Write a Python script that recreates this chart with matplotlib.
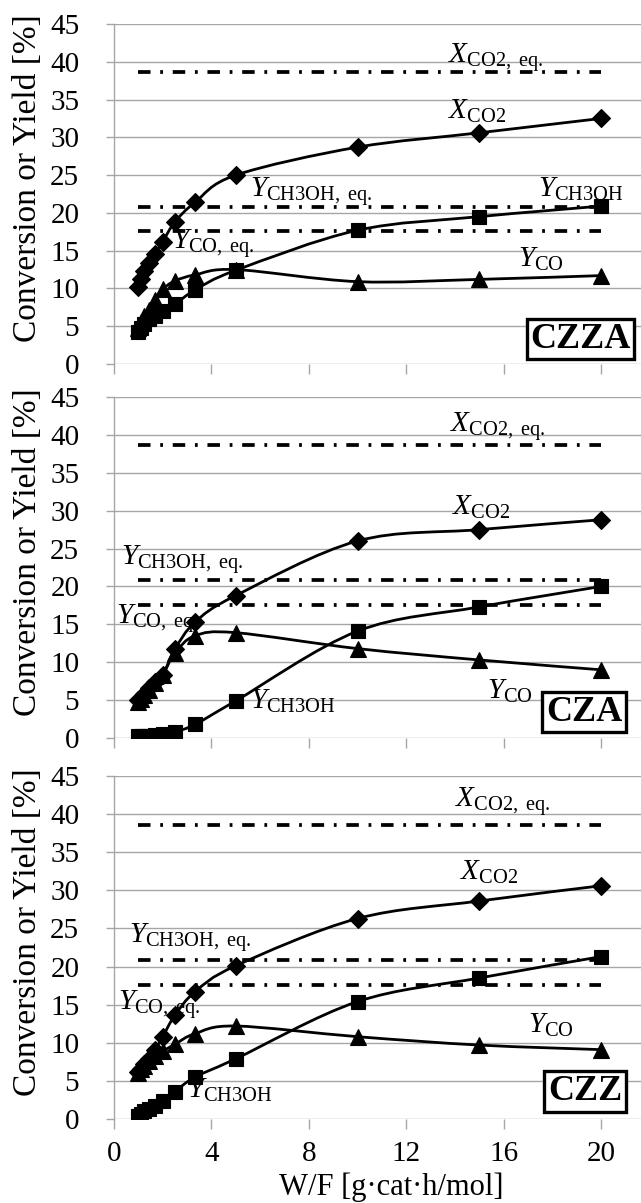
import matplotlib
matplotlib.use("Agg")
import matplotlib.pyplot as plt
from matplotlib.path import Path
from matplotlib.patches import PathPatch

# ---------------- data ----------------
wf = [1.0, 1.11, 1.25, 1.43, 1.67, 2.0, 2.5, 3.33, 5.0, 10.0, 15.0, 20.0]

czza_xco2 = [10.2, 11.2, 12.3, 13.4, 14.6, 16.2, 18.8, 21.4, 25.0, 28.7, 30.6, 32.5]
czza_ych3oh = [4.3, 4.8, 5.3, 5.9, 6.3, 7.0, 7.9, 9.8, 12.4, 17.7, 19.5, 20.9]
czza_yco = [4.8, 5.5, 6.3, 7.2, 8.5, 9.9, 11.0, 11.8, 12.5, 10.9, 11.2, 11.7]

cza_xco2 = [5.0, 5.3, 5.8, 6.6, 7.4, 8.3, 11.7, 15.3, 18.8, 26.0, 27.5, 28.8]
cza_ych3oh = [0.2, 0.2, 0.25, 0.3, 0.4, 0.5, 0.8, 1.8, 4.9, 14.1, 17.3, 20.0]
cza_yco = [4.8, 5.2, 5.7, 6.4, 7.2, 8.3, 11.2, 13.5, 13.9, 11.8, 10.3, 9.0]

czz_xco2 = [6.2, 6.6, 7.2, 7.9, 9.0, 10.8, 13.6, 16.7, 20.1, 26.3, 28.6, 30.6]
czz_ych3oh = [0.4, 0.7, 1.0, 1.3, 1.7, 2.3, 3.6, 5.5, 7.9, 15.4, 18.5, 21.3]
czz_yco = [6.0, 6.5, 7.0, 7.6, 8.3, 8.9, 9.8, 11.2, 12.2, 10.8, 9.7, 9.1]

xco2_eq = 38.6
ych3oh_eq = 20.8
yco_eq = 17.6

catalysts = ["CZZA", "CZA", "CZZ"]
xticks = [0, 4, 8, 12, 16, 20]
yticks = [0, 5, 10, 15, 20, 25, 30, 35, 40, 45]

# ---------------- style ----------------
plt.rcParams["font.family"] = ["Liberation Serif", "DejaVu Serif"]
plt.rcParams["mathtext.fontset"] = "custom"
plt.rcParams["mathtext.rm"] = "Liberation Serif"
plt.rcParams["mathtext.it"] = "Liberation Serif:italic"
plt.rcParams["lines.scale_dashes"] = False

GRID = "#a6a6a6"
W, H = 641, 1203
fig = plt.figure(figsize=(W / 100, H / 100), dpi=100)

panel_px = [(24, 364), (397, 738), (776, 1119)]  # (top, bottom) pixel rows
x0_px = 114
xmax = (W - x0_px) / 24.35

series = [
    (czza_xco2, czza_ych3oh, czza_yco),
    (cza_xco2, cza_ych3oh, cza_yco),
    (czz_xco2, czz_ych3oh, czz_yco),
]

# label layout per panel: (text, x, y) in data coords (left, baseline)
lab_xeq = r"$X_{\mathrm{CO2,\ eq.}}$"
lab_x = r"$X_{\mathrm{CO2}}$"
lab_meq = r"$Y_{\mathrm{CH3OH,\ eq.}}$"
lab_m = r"$Y_{\mathrm{CH3OH}}$"
lab_ceq = r"$Y_{\mathrm{CO,\ eq.}}$"
lab_c = r"$Y_{\mathrm{CO}}$"
label_pos = [
    [(lab_xeq, 13.7, 39.8), (lab_x, 13.7, 32.5), (lab_meq, 5.6, 22.1),
     (lab_m, 17.4, 22.1), (lab_ceq, 2.4, 15.3), (lab_c, 16.6, 12.8)],
    [(lab_xeq, 13.8, 40.4), (lab_x, 13.9, 29.4), (lab_meq, 0.3, 22.8),
     (lab_m, 5.6, 3.9), (lab_ceq, 0.1, 15.1), (lab_c, 15.3, 5.2)],
    [(lab_xeq, 14.0, 40.9), (lab_x, 14.2, 31.4), (lab_meq, 0.6, 23.1),
     (lab_m, 3.0, 2.8), (lab_ceq, 0.15, 14.3), (lab_c, 17.0, 11.3)],
]
box_pos = [(19.15, 3.3), (19.3, 3.4), (19.35, 3.6)]


def smooth_path(x, y):
    verts = [(x[0], y[0])]
    codes = [Path.MOVETO]
    n = len(x)
    for i in range(n - 1):
        a = i - 1 if i > 0 else i
        d = i + 2 if i + 2 < n else i + 1
        c1 = (x[i] + (x[i + 1] - x[a]) / 6.0, y[i] + (y[i + 1] - y[a]) / 6.0)
        c2 = (x[i + 1] - (x[d] - x[i]) / 6.0, y[i + 1] - (y[d] - y[i]) / 6.0)
        verts += [c1, c2, (x[i + 1], y[i + 1])]
        codes += [Path.CURVE4] * 3
    return Path(verts, codes)


for k, (top, bot) in enumerate(panel_px):
    ax = fig.add_axes([x0_px / W, 1 - bot / H, 1 - x0_px / W, (bot - top) / H])
    ax.set_xlim(0, xmax)
    ax.set_ylim(0, 45)
    ax.set_xticks(xticks)
    ax.set_yticks(yticks)
    for s in ["top", "right", "bottom"]:
        ax.spines[s].set_visible(False)
    ax.spines["left"].set_color(GRID)
    ax.spines["left"].set_linewidth(1.0)
    ax.grid(axis="y", color=GRID, linewidth=1.0, zorder=0)
    ax.set_axisbelow(True)
    ax.tick_params(axis="y", direction="out", length=6, width=1.0, color=GRID,
                   labelsize=21, pad=19)
    ax.tick_params(axis="x", direction="out", length=7, width=1.0, color=GRID,
                   labelsize=21, pad=9)
    if k < 2:
        ax.tick_params(axis="x", labelbottom=False)
    ax.set_ylabel("Conversion or Yield [%]", fontsize=24)
    ax.yaxis.set_label_coords(-0.135, 0.546)

    xc, ym, yc = series[k]
    # equilibrium lines
    for eq in (xco2_eq, ych3oh_eq, yco_eq):
        ax.plot([wf[0], wf[-1]], [eq, eq], color="black", lw=2.7,
                dashes=(9, 7, 2, 7), solid_capstyle="butt",
                dash_capstyle="butt", zorder=2)
    # smoothed lines + markers
    for vals, mk, ms in ((xc, "D", 9.5), (ym, "s", 10.5), (yc, "^", 11.5)):
        ax.add_patch(PathPatch(smooth_path(wf, vals), fill=False,
                               edgecolor="black", lw=2.0, zorder=3))
        ax.plot(wf, vals, linestyle="none", marker=mk, ms=ms, color="black",
                mec="black", mew=0.8, zorder=4)
    for txt, tx, ty in label_pos[k]:
        ax.text(tx, ty, txt, fontsize=21, ha="left", va="baseline", zorder=5)
    bx, by = box_pos[k]
    ax.text(bx, by, catalysts[k], fontsize=26, fontweight="bold", ha="center",
            va="center", zorder=6,
            bbox=dict(boxstyle="square,pad=0.1", fc="white", ec="black", lw=2.4))
    if k == 2:
        ax.set_xlabel("W/F [g\u00b7cat\u00b7h/mol]", fontsize=22)
        ax.xaxis.set_label_coords(0.527, -0.155)

fig.savefig("out.png", dpi=100)
